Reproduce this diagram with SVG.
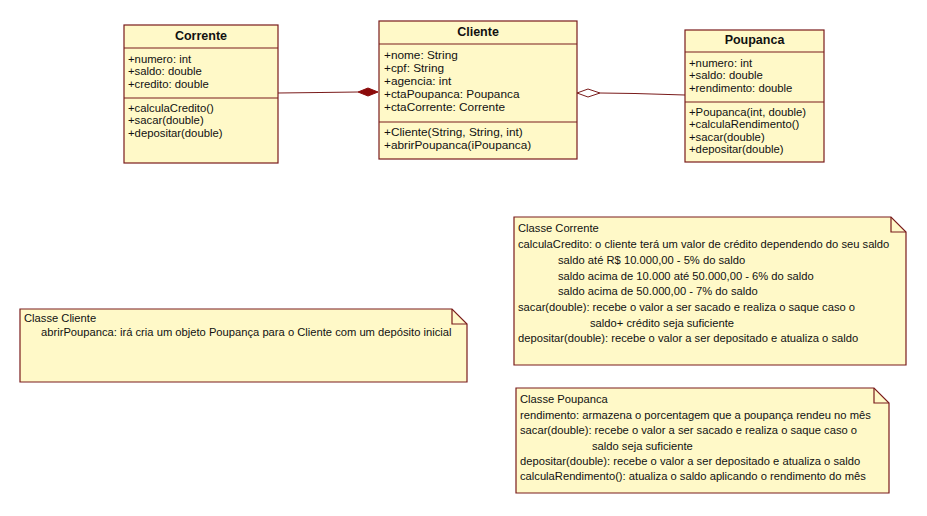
<svg xmlns="http://www.w3.org/2000/svg" width="927" height="516" viewBox="0 0 927 516">
<style>
.box{fill:#fff9c8;stroke:#7a1c1c;stroke-width:1.2}
.div{stroke:#7a1c1c;stroke-width:1.2}
text{font-family:"Liberation Sans",Arial,sans-serif;font-size:11.2px;fill:#111}
.m{font-size:11.3px}
.c{font-size:11.8px}
.t{font-weight:bold;font-size:12.5px;text-anchor:middle}
.conn{fill:none;stroke:#7a1c1c;stroke-width:1.2}
</style>
<rect width="927" height="516" fill="#fff"/>
<g id="connectors">
<polyline class="conn" points="278,93 320,92.5 358,92"/>
<polygon points="358,92 368,88 378,92 368,96" fill="#8b0a0a" stroke="#8b0a0a"/>
<polyline class="conn" points="600,93 635,93.5 685,95"/>
<polygon points="577,93 588,89 600,93 588,97" fill="#fff" stroke="#7a1c1c" stroke-width="1"/>
</g>
<g id="Corrente">
<rect class="box" x="124" y="25" width="154" height="138"/>
<line class="div" x1="124" y1="48" x2="278" y2="48"/>
<line class="div" x1="124" y1="98" x2="278" y2="98"/>
<text class="t" x="201" y="40">Corrente</text>
<text class="m" x="128" y="62.5">+numero: int</text>
<text class="m" x="128" y="75">+saldo: double</text>
<text class="m" x="128" y="87.5">+credito: double</text>
<text class="m" x="128" y="111.5">+calculaCredito()</text>
<text class="m" x="128" y="124">+sacar(double)</text>
<text class="m" x="128" y="136.5">+depositar(double)</text>
</g>
<g id="Cliente">
<rect class="box" x="379" y="21" width="198" height="138"/>
<line class="div" x1="379" y1="44" x2="577" y2="44"/>
<line class="div" x1="379" y1="122" x2="577" y2="122"/>
<text class="t" x="478" y="36">Cliente</text>
<text class="c" x="384" y="59">+nome: String</text>
<text class="c" x="384" y="72">+cpf: String</text>
<text class="c" x="384" y="85">+agencia: int</text>
<text class="c" x="384" y="98">+ctaPoupanca: Poupanca</text>
<text class="c" x="384" y="111">+ctaCorrente: Corrente</text>
<text class="c" x="384" y="136">+Cliente(String, String, int)</text>
<text class="c" x="384" y="149">+abrirPoupanca(iPoupanca)</text>
</g>
<g id="Poupanca">
<rect class="box" x="685" y="30" width="139" height="132"/>
<line class="div" x1="685" y1="52" x2="824" y2="52"/>
<line class="div" x1="685" y1="102" x2="824" y2="102"/>
<text class="t" x="754.5" y="44">Poupanca</text>
<text class="m" x="689" y="66.5">+numero: int</text>
<text class="m" x="689" y="79">+saldo: double</text>
<text class="m" x="689" y="91.5">+rendimento: double</text>
<text class="m" x="689" y="115.5">+Poupanca(int, double)</text>
<text class="m" x="689" y="128">+calculaRendimento()</text>
<text class="m" x="689" y="140.5">+sacar(double)</text>
<text class="m" x="689" y="153">+depositar(double)</text>
</g>
<g id="NotaCliente">
<path class="box" d="M20,309 H452 L467,324 V382 H20 Z"/>
<path class="conn" d="M452,309 V324 H467"/>
<text x="24" y="322">Classe Cliente</text>
<text x="41" y="336">abrirPoupanca: irá cria um  objeto Poupança para o Cliente com um depósito inicial</text>
</g>
<g id="NotaCorrente">
<path class="box" d="M514,217 H891 L906,232 V365 H514 Z"/>
<path class="conn" d="M891,217 V232 H906"/>
<text x="518" y="232">Classe Corrente</text>
<text x="518" y="248">calculaCredito: o cliente terá um valor de crédito dependendo do seu saldo</text>
<text x="558" y="264">saldo até R$ 10.000,00 - 5% do saldo</text>
<text x="558" y="280">saldo acima de 10.000 até 50.000,00 - 6% do saldo</text>
<text x="558" y="295">saldo acima de 50.000,00 - 7% do saldo</text>
<text x="518" y="311">sacar(double): recebe o valor a ser sacado e realiza o saque caso o</text>
<text x="590" y="327">saldo+ crédito seja suficiente</text>
<text x="518" y="342">depositar(double): recebe o valor a ser depositado e atualiza o saldo</text>
</g>
<g id="NotaPoupanca">
<path class="box" d="M516,388 H874 L889,403 V493 H516 Z"/>
<path class="conn" d="M874,388 V403 H889"/>
<text x="520" y="403">Classe Poupanca</text>
<text x="520" y="419">rendimento: armazena o porcentagem que a poupança rendeu no mês</text>
<text x="520" y="434">sacar(double): recebe o valor a ser sacado e realiza o saque caso o</text>
<text x="592" y="450">saldo seja suficiente</text>
<text x="520" y="465">depositar(double): recebe o valor a ser depositado e atualiza o saldo</text>
<text x="520" y="480">calculaRendimento(): atualiza o saldo aplicando o rendimento do mês</text>
</g>
</svg>
